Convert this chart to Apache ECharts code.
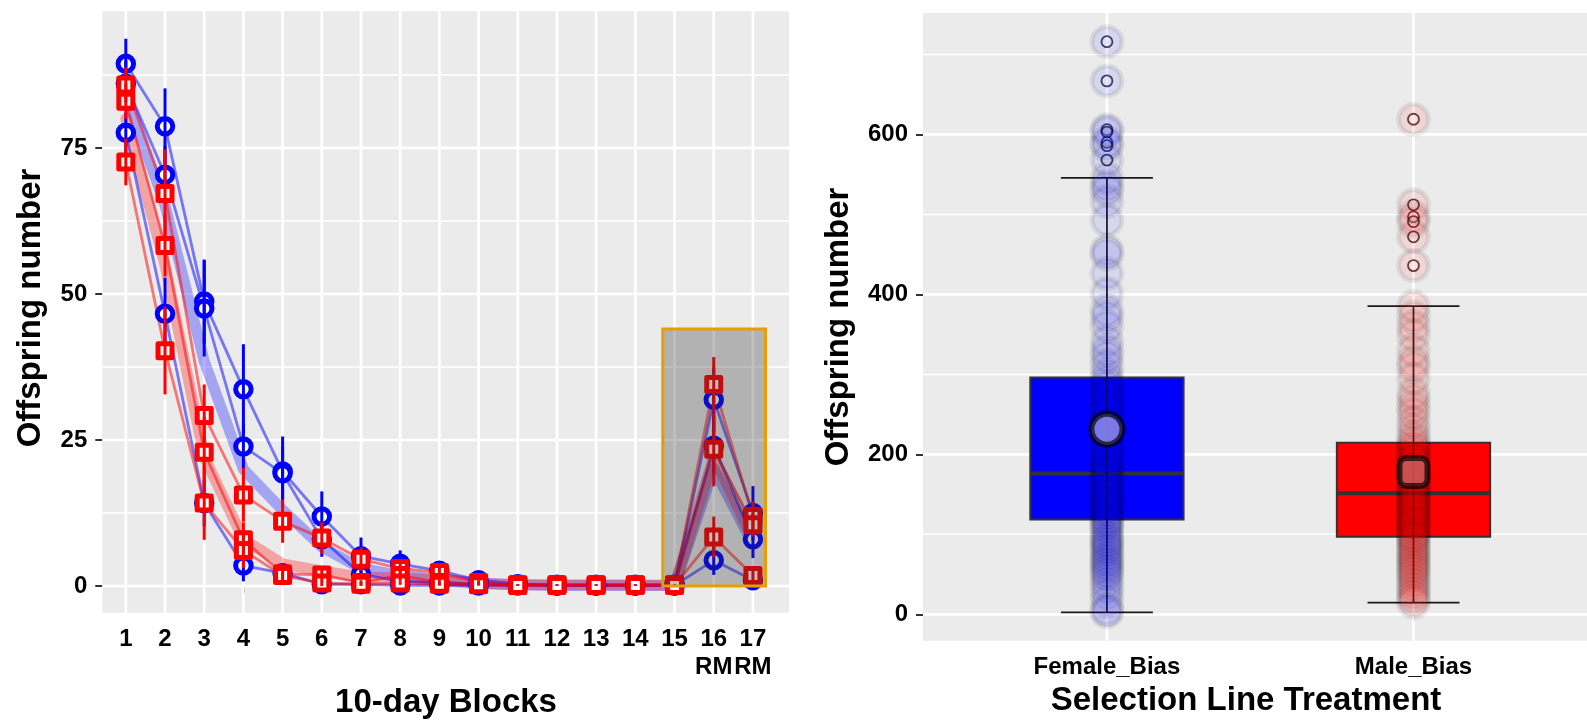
<!DOCTYPE html>
<html><head><meta charset="utf-8">
<script src="https://cdn.jsdelivr.net/npm/echarts@6/dist/echarts.min.js"></script>
<style>html,body{margin:0;padding:0;background:#fff}#c{width:1587px;height:720px}</style>
</head><body><div id="c"></div>
<script>
// ---------- LEFT PANEL DATA ----------
const blocks = [1,2,3,4,5,6,7,8,9,10,11,12,13,14,15,16,17];
const blockLabels = ['1','2','3','4','5','6','7','8','9','10','11','12','13','14','15','16\nRM','17\nRM'];
const leftYTicks = [0,25,50,75];
const leftYMinor = [12.5,37.5,62.5,87.5];

const blueA = [89.4,78.7,48.7,33.7,19.6,11.9,5.1,3.8,2.6,1.0,0.3,0.2,0.2,0.2,0.2,31.9,12.5];
const blueB = [86.0,70.4,47.5,23.9,19.3,8.0,2.0,0.8,0.6,0.3,0.2,0.1,0.1,0.1,0.1,24.0,8.0];
const blueC = [77.6,46.6,14.2,3.5,2.2,0.3,0.3,0.1,0.1,0.1,0.1,0.1,0.1,0.1,0.1,4.4,1.0];
const blueAse = [4.3,6.5,7.2,7.7,6.0,4.3,3.2,2.3,1.4,0.6,0.2,0.1,0.1,0.1,0.1,5.5,4.6];
const blueBse = [4.0,5.0,8.2,4.0,4.5,3.0,1.5,0.8,0.5,0.3,0.1,0.1,0.1,0.1,0.1,5.0,3.2];
const blueCse = [3.5,6.2,4.0,2.7,1.5,0.3,0.3,0.1,0.1,0.1,0.1,0.1,0.1,0.1,0.1,2.5,0.8];

const redA = [85.8,67.2,29.2,15.6,11.1,8.2,4.6,3.0,2.3,0.6,0.2,0.2,0.2,0.2,0.2,34.5,11.9];
const redB = [83.0,58.3,22.9,7.9,2.1,1.9,0.6,1.8,0.6,0.3,0.2,0.2,0.2,0.2,0.2,23.4,10.5];
const redC = [72.6,40.3,14.2,6.1,1.8,0.5,0.3,0.5,0.3,0.2,0.1,0.1,0.1,0.1,0.1,8.4,1.8];
const redAse = [3.0,7.5,5.3,4.6,3.7,2.7,2.0,1.5,1.2,0.4,0.1,0.1,0.1,0.1,0.1,4.7,2.6];
const redBse = [3.0,5.3,6.0,3.0,1.0,1.0,0.4,1.0,0.5,0.2,0.1,0.1,0.1,0.1,0.1,6.3,2.0];
const redCse = [4.0,7.5,6.3,3.0,1.0,0.5,0.3,0.3,0.2,0.1,0.1,0.1,0.1,0.1,0.1,3.5,0.8];

const blueMean = [84.3,65.2,38.5,20.0,13.0,6.7,3.0,1.8,1.1,0.5,0.2,0.1,0.1,0.1,0.1,20.1,7.2];
const redMean  = [80.0,55.0,22.1,8.0,3.8,2.6,1.5,1.4,1.0,0.4,0.2,0.2,0.2,0.2,0.1,22.1,8.1];

const rmRect = [14.7, 0, 17.32, 44];   // x0, y0, x1, y1

// ---------- RIGHT PANEL DATA ----------
const boxCats = ['Female_Bias','Male_Bias'];
const boxPos = [1,2];
const boxMin = [2.5,14.5];
const boxQ1  = [118.7,97.0];
const boxMed = [176.2,151.3];
const boxQ3  = [296.2,214.5];
const boxMax = [545.8,385.4];
const boxMean = [231.5,178.0];
const rightYTicks = [0,200,400,600];
const rightYMinor = [100,300,500,700];
const outliersF = [716,667,606,603,590,586,568];
const outliersM = [619,512,497,491,472,436];
const pointsF = [716,667,606,603,590,586,568,545,536,530,516,493,455,450,426,401,380,372,360,341,330,322,311,300,292,285,276,270,262,255,248,240,236,228,221,214,207,199,192,186,180,176,172,167,161,156,150,147,141,137,132,128,124,119,116,112,108,103,98,94,90,86,82,78,73,69,65,61,56,52,47,40,33,25,16,6,3];
const pointsM = [619,512,497,491,472,436,385,372,360,349,330,316,309,295,276,268,259,251,240,231,222,216,210,205,199,194,190,185,180,176,172,168,163,159,155,151,148,145,141,138,134,130,127,123,119,115,112,108,104,100,97,94,90,86,82,78,74,70,66,62,58,54,50,45,40,35,30,25,20,15];

// ---------- STYLE ----------
const FONT = '"Liberation Sans", Arial, sans-serif';
const BLUE = '#0000FF', RED = '#FF0000';
const X0L = 0.4, X1L = 17.92, Y0L = -4.57, Y1L = 98.4;
const X0R = 0.4, X1R = 2.566, Y0R = -33, Y1R = 752;

function pairs(xs, ys){ return xs.map((x,i)=>[x, ys[i]]); }
function errData(vals, se){ return blocks.map((x,i)=>[x, vals[i]-se[i], vals[i]+se[i]]); }

function hGrid(gi, values, width){
  return {type:'custom', xAxisIndex:gi, yAxisIndex:gi, z:1, silent:true,
    data: values.map(v=>[v]),
    encode:{x:-1, y:0},
    renderItem(params, api){
      const cs = params.coordSys;
      const y = api.coord([gi===0?X0L:X0R, api.value(0)])[1];
      return {type:'line', shape:{x1:cs.x, y1:y, x2:cs.x+cs.width, y2:y}, style:{stroke:'#FFFFFF', lineWidth:width}};
    }};
}
function vGrid(gi, values, width){
  return {type:'custom', xAxisIndex:gi, yAxisIndex:gi, z:1, silent:true,
    data: values.map(v=>[v]),
    encode:{x:0, y:-1},
    renderItem(params, api){
      const cs = params.coordSys;
      const x = api.coord([api.value(0), gi===0?Y0L:Y0R])[0];
      return {type:'line', shape:{x1:x, y1:cs.y, x2:x, y2:cs.y+cs.height}, style:{stroke:'#FFFFFF', lineWidth:width}};
    }};
}
function errSeries(vals, se, color, z){
  return {type:'custom', xAxisIndex:0, yAxisIndex:0, z:z, silent:true,
    data: errData(vals, se), encode:{x:0, y:[1,2]},
    renderItem(params, api){
      const p1 = api.coord([api.value(0), api.value(1)]);
      const p2 = api.coord([api.value(0), api.value(2)]);
      return {type:'line', shape:{x1:p1[0], y1:p1[1], x2:p2[0], y2:p2[1]}, style:{stroke:color, lineWidth:3}};
    }};
}
function thinLine(vals, color){
  return {type:'line', xAxisIndex:0, yAxisIndex:0, z:2, data:pairs(blocks, vals), showSymbol:false, symbol:'none',
    lineStyle:{color:color, width:2.8, join:'round'}};
}
function ptSeries(vals, isBlue, z){
  return {type:'scatter', xAxisIndex:0, yAxisIndex:0, z:z, data:pairs(blocks, vals),
    symbol: isBlue ? 'circle' : 'rect', symbolSize: isBlue ? 15.5 : 14,
    itemStyle:{color:'#FFFFFF', borderColor: isBlue?BLUE:RED, borderWidth:5, borderJoin:'round', opacity:1}};
}

const axisLabelBase = {color:'#000', fontWeight:'bold', fontSize:24, fontFamily:FONT};
const tickBase = {show:true, length:7, lineStyle:{color:'#333', width:2}};

const option = {
  animation:false,
  backgroundColor:'#FFFFFF',
  grid:[
    {left:102.3, top:11.3, width:686.7, height:601.4, show:true, backgroundColor:'#EBEBEB', borderWidth:0, containLabel:false},
    {left:923, top:12.9, width:664, height:627.8, show:true, backgroundColor:'#EBEBEB', borderWidth:0, containLabel:false}
  ],
  xAxis:[
    {type:'value', gridIndex:0, min:X0L, max:X1L, splitLine:{show:false}, axisLine:{show:false},
     axisTick:Object.assign({customValues:blocks}, tickBase),
     axisLabel:Object.assign({customValues:blocks, margin:13, lineHeight:28,
       formatter:(v)=>{const i=blocks.indexOf(v); return i>=0?blockLabels[i]:'';}}, axisLabelBase)},
    {type:'value', gridIndex:1, min:X0R, max:X1R, splitLine:{show:false}, axisLine:{show:false},
     axisTick:Object.assign({customValues:boxPos}, tickBase),
     axisLabel:Object.assign({customValues:boxPos, margin:13, lineHeight:28,
       formatter:(v)=>{const i=boxPos.indexOf(v); return i>=0?boxCats[i]:'';}}, axisLabelBase)}
  ],
  yAxis:[
    {type:'value', gridIndex:0, min:Y0L, max:Y1L, splitLine:{show:false}, axisLine:{show:false},
     axisTick:Object.assign({customValues:leftYTicks}, tickBase),
     axisLabel:Object.assign({customValues:leftYTicks, margin:15}, axisLabelBase)},
    {type:'value', gridIndex:1, min:Y0R, max:Y1R, splitLine:{show:false}, axisLine:{show:false},
     axisTick:Object.assign({customValues:rightYTicks}, tickBase),
     axisLabel:Object.assign({customValues:rightYTicks, margin:15}, axisLabelBase)}
  ],
  graphic:[
    {type:'text', x:446, y:703, style:{text:'10-day Blocks', font:'bold 33px '+FONT, fill:'#000', align:'center', verticalAlign:'middle'}},
    {type:'text', x:1246, y:701, style:{text:'Selection Line Treatment', font:'bold 33px '+FONT, fill:'#000', align:'center', verticalAlign:'middle'}},
    {type:'text', x:31, y:308, rotation:Math.PI/2, style:{text:'Offspring number', font:'bold 33px '+FONT, fill:'#000', align:'center', verticalAlign:'middle'}},
    {type:'text', x:839, y:327, rotation:Math.PI/2, style:{text:'Offspring number', font:'bold 33px '+FONT, fill:'#000', align:'center', verticalAlign:'middle'}}
  ],
  series:[
    hGrid(0, leftYMinor, 1.5), hGrid(0, leftYTicks, 2.7), vGrid(0, blocks, 2.7),
    hGrid(1, rightYMinor, 1.5), hGrid(1, rightYTicks, 2.7), vGrid(1, boxPos, 2.7),
    {type:'line', xAxisIndex:0, yAxisIndex:0, z:2, data:pairs(blocks, blueMean), symbol:'none',
     lineStyle:{color:'rgba(0,0,255,0.3)', width:11, join:'round', cap:'round'}},
    {type:'line', xAxisIndex:0, yAxisIndex:0, z:2, data:pairs(blocks, redMean), symbol:'none',
     lineStyle:{color:'rgba(255,0,0,0.3)', width:11, join:'round', cap:'round'}},
    thinLine(blueA,'rgba(0,0,255,0.5)'), thinLine(blueB,'rgba(0,0,255,0.5)'), thinLine(blueC,'rgba(0,0,255,0.5)'),
    thinLine(redA,'rgba(255,0,0,0.5)'), thinLine(redB,'rgba(255,0,0,0.5)'), thinLine(redC,'rgba(255,0,0,0.5)'),
    ptSeries(blueA,true,3), ptSeries(blueB,true,3), ptSeries(blueC,true,3),
    errSeries(blueA,blueAse,BLUE,4), errSeries(blueB,blueBse,BLUE,4), errSeries(blueC,blueCse,BLUE,4),
    ptSeries(redA,false,5), ptSeries(redB,false,5), ptSeries(redC,false,5),
    errSeries(redA,redAse,RED,6), errSeries(redB,redBse,RED,6), errSeries(redC,redCse,RED,6),
    {type:'custom', xAxisIndex:0, yAxisIndex:0, z:7, silent:true,
     data:[rmRect], encode:{x:[0,2], y:[1,3]},
     renderItem(params, api){
       const p0 = api.coord([api.value(0), api.value(3)]);
       const p1 = api.coord([api.value(2), api.value(1)]);
       return {type:'rect', shape:{x:p0[0], y:p0[1], width:p1[0]-p0[0], height:p1[1]-p0[1]},
         style:{fill:'rgba(45,45,45,0.3)', stroke:'#E69F00', lineWidth:3}};
     }},
    {type:'custom', xAxisIndex:1, yAxisIndex:1, z:3, silent:true,
     data: boxPos.map((x,i)=>[x, boxMin[i], boxQ1[i], boxMed[i], boxQ3[i], boxMax[i], i]),
     encode:{x:0, y:[1,5]},
     renderItem(params, api){
       const x = api.value(0), i = api.value(6);
       const a = api.coord([x-0.25, api.value(4)]);
       const b = api.coord([x+0.25, api.value(2)]);
       const m1 = api.coord([x-0.25, api.value(3)]);
       const m2 = api.coord([x+0.25, api.value(3)]);
       return {type:'group', children:[
         {type:'rect', shape:{x:a[0], y:a[1], width:b[0]-a[0], height:b[1]-a[1]}, style:{fill: i===0?BLUE:RED, stroke:'#333', lineWidth:2}},
         {type:'line', shape:{x1:m1[0], y1:m1[1], x2:m2[0], y2:m2[1]}, style:{stroke:'#333', lineWidth:4}}
       ]};
     }},
    {type:'custom', xAxisIndex:1, yAxisIndex:1, z:4, silent:true,
     data: boxPos.map((x,i)=>[x, boxMin[i], boxMax[i]]),
     encode:{x:0, y:[1,2]},
     renderItem(params, api){
       const x = api.value(0);
       const lo = api.coord([x, api.value(1)]), hi = api.coord([x, api.value(2)]);
       const c0 = api.coord([x-0.15, api.value(1)]), c1 = api.coord([x+0.15, api.value(1)]);
       const d0 = api.coord([x-0.15, api.value(2)]), d1 = api.coord([x+0.15, api.value(2)]);
       const st = {stroke:'#1a1a1a', lineWidth:1.8};
       return {type:'group', children:[
         {type:'line', shape:{x1:lo[0], y1:lo[1], x2:hi[0], y2:hi[1]}, style:st},
         {type:'line', shape:{x1:c0[0], y1:c0[1], x2:c1[0], y2:c1[1]}, style:st},
         {type:'line', shape:{x1:d0[0], y1:d0[1], x2:d1[0], y2:d1[1]}, style:st}
       ]};
     }},
    {type:'scatter', xAxisIndex:1, yAxisIndex:1, z:4, data: outliersF.map(v=>[boxPos[0], v]), symbol:'circle', symbolSize:11,
     itemStyle:{color:'rgba(255,255,255,0.35)', borderColor:'#15153a', borderWidth:1.8}},
    {type:'scatter', xAxisIndex:1, yAxisIndex:1, z:4, data: outliersM.map(v=>[boxPos[1], v]), symbol:'circle', symbolSize:11,
     itemStyle:{color:'rgba(255,255,255,0.35)', borderColor:'#3a1515', borderWidth:1.8}},
    {type:'scatter', xAxisIndex:1, yAxisIndex:1, z:5, data: pointsF.map(v=>[boxPos[0], v]), symbol:'circle', symbolSize:30,
     itemStyle:{color:'rgba(0,0,255,0.11)', borderColor:'rgba(0,0,0,0.09)', borderWidth:5}},
    {type:'scatter', xAxisIndex:1, yAxisIndex:1, z:5, data: pointsM.map(v=>[boxPos[1], v]), symbol:'circle', symbolSize:30,
     itemStyle:{color:'rgba(255,0,0,0.11)', borderColor:'rgba(0,0,0,0.09)', borderWidth:5}},
    {type:'scatter', xAxisIndex:1, yAxisIndex:1, z:6, data: [[boxPos[0], boxMean[0]]], symbol:'circle', symbolSize:31,
     itemStyle:{color:'rgba(190,190,240,0.8)', borderColor:'rgba(0,0,0,0.85)', borderWidth:6}},
    {type:'scatter', xAxisIndex:1, yAxisIndex:1, z:6, data: [[boxPos[1], boxMean[1]]], symbol:'roundRect', symbolSize:28,
     itemStyle:{color:'rgba(200,140,140,0.7)', borderColor:'rgba(0,0,0,0.85)', borderWidth:6}}
  ]
};
const chart = echarts.init(document.getElementById('c'), null, {renderer:'canvas', width:1587, height:720});
chart.setOption(option);
</script>
</body></html>
